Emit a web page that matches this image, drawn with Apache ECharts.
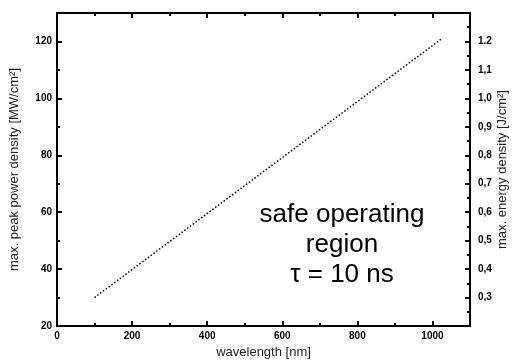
<!DOCTYPE html>
<html><head><meta charset="utf-8">
<script src="https://cdn.jsdelivr.net/npm/echarts@6/dist/echarts.min.js"></script>
<style>html,body{margin:0;padding:0;background:#fff}#c{width:514px;height:360px}</style>
</head><body><div id="c"></div>
<script>
const wavelength = [100, 1025];
const peakPower = [30, 121];
const xTickLabels = ['0','200','400','600','800','1000'];
const leftTickLabels = ['20','40','60','80','100','120'];
const rightTickValues = ['0.3','0.4','0.5','0.6','0.7','0.8','0.9','1.0','1.1','1.2'];
const rightTickLabels = ['0,3','0,4','0,5','0,6','0,7','0,8','0,9','1,0','1,1','1.2'];
const annotation = ['safe operating', 'region', 'τ = 10 ns'];

const chart = echarts.init(document.getElementById('c'));
const tickFont = {fontFamily:'Liberation Sans', fontWeight:'bold', fontSize:10, color:'#000'};
function axisLine(){ return {show:true, onZero:false, lineStyle:{color:'#000', width:2}}; }
function majorTick(){ return {show:true, inside:true, length:5, lineStyle:{color:'#000', width:2}}; }
function minorTick(){ return {show:true, splitNumber:2, length:3, lineStyle:{color:'#000', width:2}}; }
chart.setOption({
  animation:false,
  grid:{left:57, right:44, top:13, bottom:34, outerBoundsMode:'none', containLabel:false},
  xAxis:[{
    type:'value', min:0, max:1100, interval:200, position:'bottom',
    axisLine:axisLine(), axisTick:majorTick(), minorTick:minorTick(),
    splitLine:{show:false},
    axisLabel:Object.assign({margin:5, formatter:v=>{const s=String(Math.round(v));return xTickLabels.includes(s)?s:'';}}, tickFont),
    name:'wavelength [nm]', nameLocation:'middle', nameGap:18,
    nameTextStyle:{fontFamily:'Liberation Sans', fontSize:13, color:'#222'}
  },{
    type:'value', min:0, max:1100, interval:200, position:'top',
    axisLine:axisLine(), axisTick:majorTick(), minorTick:minorTick(),
    splitLine:{show:false}, axisLabel:{show:false}
  }],
  yAxis:[{
    type:'value', min:20, max:130, interval:20, position:'left',
    axisLine:axisLine(), axisTick:majorTick(), minorTick:minorTick(),
    splitLine:{show:false},
    axisLabel:Object.assign({margin:5, formatter:v=>{const s=String(Math.round(v));return leftTickLabels.includes(s)?s:'';}}, tickFont),
    name:'max. peak power density [MW/cm²]', nameLocation:'middle', nameGap:36,
    nameTextStyle:{fontFamily:'Liberation Sans', fontSize:13, color:'#222'}
  },{
    type:'value', min:0.2, max:1.3, interval:0.1, position:'right',
    axisLine:axisLine(), axisTick:majorTick(), minorTick:minorTick(),
    splitLine:{show:false},
    axisLabel:Object.assign({margin:8, formatter:v=>{const i=rightTickValues.indexOf(v.toFixed(1));return i>=0?rightTickLabels[i]:'';}}, tickFont),
    name:'max. energy density [J/cm²]', nameLocation:'middle', nameGap:26, nameRotate:90, nameMoveOverlap:false,
    nameTextStyle:{fontFamily:'Liberation Sans', fontSize:13, color:'#222'}
  }],
  series:[{
    type:'line', xAxisIndex:0, yAxisIndex:0, symbol:'none',
    data:wavelength.map((w,i)=>[w, peakPower[i]]),
    lineStyle:{color:'#000', width:1.5, type:[1.5,2]}
  }],
  graphic:[{
    type:'text', x:342, y:200,
    style:{text:annotation.join('\n'), font:'26px "Liberation Sans"', fill:'#000', textAlign:'center', textVerticalAlign:'top', lineHeight:30},
  }]
});
</script></body></html>
